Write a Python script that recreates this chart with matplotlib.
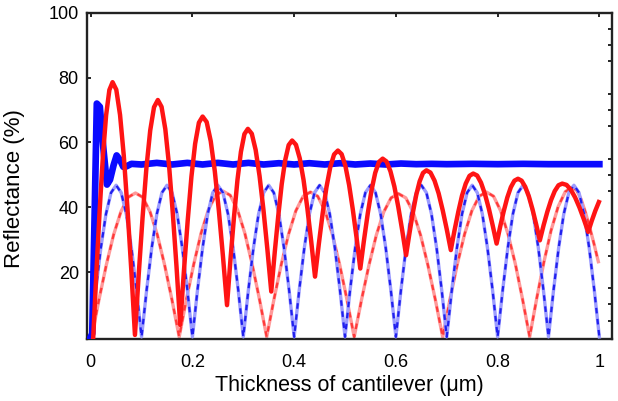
import matplotlib.pyplot as plt
from matplotlib.ticker import MultipleLocator

# thick red curve (solid)
red_thick_x = [0.005, 0.0113, 0.0177, 0.024, 0.0303, 0.0367, 0.043,
               0.0503, 0.0577, 0.065, 0.0723, 0.0797, 0.087,
               0.0945, 0.102, 0.1095, 0.117, 0.1245, 0.132,
               0.1393, 0.1467, 0.154, 0.1613, 0.1687, 0.176,
               0.1833, 0.1907, 0.198, 0.2053, 0.2127, 0.220,
               0.228, 0.236, 0.244, 0.252, 0.260, 0.268,
               0.2748, 0.2817, 0.2885, 0.2953, 0.3022, 0.309,
               0.3167, 0.3243, 0.332, 0.3397, 0.3473, 0.355,
               0.3618, 0.3687, 0.3755, 0.3823, 0.3892, 0.396,
               0.4035, 0.411, 0.4185, 0.426, 0.4335, 0.441,
               0.4485, 0.456, 0.4635, 0.471, 0.4785, 0.486,
               0.4933, 0.5007, 0.508, 0.5153, 0.5227, 0.530,
               0.5373, 0.5447, 0.552, 0.5593, 0.5667, 0.574,
               0.5817, 0.5893, 0.597, 0.6047, 0.6123, 0.620,
               0.6267, 0.6333, 0.640, 0.6467, 0.6533, 0.660,
               0.668, 0.676, 0.684, 0.692, 0.700, 0.708,
               0.7153, 0.7227, 0.730, 0.7373, 0.7447, 0.752,
               0.7597, 0.7673, 0.775, 0.7827, 0.7903, 0.798,
               0.805, 0.812, 0.819, 0.826, 0.833, 0.840,
               0.8472, 0.8543, 0.8615, 0.8687, 0.8758, 0.883,
               0.8903, 0.8977, 0.905, 0.9123, 0.9197, 0.927,
               0.9355, 0.944, 0.9525, 0.961, 0.9695, 0.978,
               0.985, 0.992, 0.999]
red_thick_y = [0.0, 20.4, 39.3, 55.8, 68.4, 76.2, 78.6,
               76.3, 68.5, 56.0, 39.6, 20.9, 0.6,
               19.5, 36.9, 52.1, 63.7, 70.9, 73.1,
               71.0, 64.1, 53.0, 38.4, 21.7, 3.7,
               20.4, 35.9, 49.4, 59.6, 66.1, 68.0,
               66.3, 60.4, 51.1, 38.9, 24.9, 9.8,
               23.9, 37.0, 48.4, 57.1, 62.6, 64.2,
               62.7, 57.7, 49.6, 39.1, 27.1, 14.0,
               26.1, 37.3, 47.1, 54.5, 59.2, 60.6,
               59.3, 55.1, 48.4, 39.6, 29.5, 18.6,
               28.7, 38.1, 46.2, 52.4, 56.3, 57.5,
               56.4, 52.8, 46.9, 39.3, 30.6, 21.1,
               29.9, 38.1, 45.2, 50.6, 54.0, 55.0,
               54.1, 51.1, 46.4, 40.1, 33.0, 25.2,
               32.0, 38.3, 43.8, 48.0, 50.6, 51.4,
               50.7, 48.2, 44.3, 39.1, 33.2, 26.8,
               32.9, 38.6, 43.6, 47.3, 49.7, 50.4,
               49.8, 47.6, 44.1, 39.6, 34.4, 28.8,
               34.0, 38.8, 43.0, 46.2, 48.2, 48.8,
               48.2, 46.3, 43.3, 39.3, 34.7, 29.8,
               34.4, 38.6, 42.2, 45.0, 46.8, 47.3,
               46.9, 45.4, 43.0, 39.9, 36.3, 32.4,
               35.8, 38.9, 41.6]

# thin red curve (dashed)
red_thin_x = [0.002, 0.0163, 0.0307, 0.045, 0.0593, 0.0737, 0.088,
              0.1023, 0.1167, 0.131, 0.1453, 0.1597, 0.174,
              0.1883, 0.2027, 0.217, 0.2313, 0.2457, 0.260,
              0.2743, 0.2887, 0.303, 0.3173, 0.3317, 0.346,
              0.3603, 0.3747, 0.389, 0.4033, 0.4177, 0.432,
              0.4463, 0.4607, 0.475, 0.4893, 0.5037, 0.518,
              0.5325, 0.547, 0.5615, 0.576, 0.5905, 0.605,
              0.6195, 0.634, 0.6485, 0.663, 0.6775, 0.692,
              0.7063, 0.7207, 0.735, 0.7493, 0.7637, 0.778,
              0.792, 0.806, 0.8205, 0.835, 0.849, 0.863,
              0.877, 0.891, 0.905, 0.919, 0.933, 0.947,
              0.9555, 0.964, 0.9725, 0.981, 0.9895, 0.998]
red_thin_y = [0.0, 11.5, 22.2, 31.5, 38.6, 43.1, 44.4,
              43.1, 38.6, 31.5, 22.2, 11.5, 0.0,
              11.7, 22.5, 32.0, 39.2, 43.7, 45.0,
              43.7, 39.2, 32.0, 22.5, 11.7, 0.0,
              11.6, 22.4, 31.7, 38.9, 43.4, 44.7,
              43.4, 38.9, 31.7, 22.4, 11.6, 0.0,
              11.5, 22.1, 31.4, 38.5, 42.9, 44.2,
              42.9, 38.5, 31.4, 22.1, 11.5, 0.0,
              11.6, 22.4, 31.7, 38.9, 43.4, 44.7,
              43.4, 38.9, 31.7, 22.4, 11.6, 0.0,
              12.0, 23.1, 32.8, 40.2, 44.8, 46.2,
              45.2, 42.5, 38.5, 33.8, 28.7, 23.2]

# thin blue curve (dashed), sampled every 0.01
blue_thin_x = [i / 100 for i in range(101)]
blue_thin_y = [0.0, 14.5, 27.5, 37.9, 44.5, 46.8, 44.5, 37.9, 27.5, 14.5] * 10 + [0.0]

# thick blue curve (solid)
blue_thick_x = [0.0, 0.003, 0.008, 0.012, 0.018, 0.025, 0.032, 0.038, 0.045,
                0.051, 0.058, 0.064, 0.070, 0.08, 0.10, 0.13, 0.16, 0.19,
                0.22, 0.25, 0.28, 0.31, 0.34, 0.37, 0.40, 0.43, 0.46,
                0.49, 0.52, 0.55, 0.58, 0.61, 0.64, 0.67, 0.70, 0.75,
                0.80, 0.85, 0.90, 0.95, 1.0]
blue_thick_y = [0.0, 1.0, 40.0, 72.0, 71.0, 58.0, 47.0, 48.5, 53.0,
                56.0, 54.5, 52.5, 52.6, 53.4, 53.2, 53.7, 53.2, 53.7,
                53.2, 53.7, 53.2, 53.7, 53.2, 53.6, 53.2, 53.6, 53.2,
                53.6, 53.2, 53.5, 53.2, 53.5, 53.3, 53.4, 53.3, 53.4,
                53.3, 53.4, 53.3, 53.3, 53.3]

plt.rcParams["font.family"] = ["Liberation Sans", "DejaVu Sans"]
plt.rcParams["font.size"] = 13

fig = plt.figure(figsize=(6.18, 4.01), dpi=100)
ax = fig.add_axes([0.141, 0.155, 0.849, 0.813])

ax.plot(red_thin_x, red_thin_y, color="#ff9a9a", lw=2.4, zorder=2)
ax.plot(red_thin_x, red_thin_y, color="#ff3a3a", lw=1.6, ls=(0, (2.5, 2.5)), zorder=2)
ax.plot(blue_thin_x, blue_thin_y, color="#9c9cff", lw=2.4, zorder=3)
ax.plot(blue_thin_x, blue_thin_y, color="#2020ee", lw=1.6, ls=(0, (2.5, 2.5)), zorder=3)
ax.plot(blue_thick_x, blue_thick_y, color="#0a0aff", lw=4.8, zorder=4,
        solid_joinstyle="round")
ax.plot(red_thick_x, red_thick_y, color="#ff1414", lw=3.2, zorder=5,
        solid_joinstyle="round")

ax.set_xlim(-0.007, 1.0245)
ax.set_ylim(-0.6, 100)
ax.set_xticks([0, 0.2, 0.4, 0.6, 0.8, 1.0])
ax.set_xticklabels(["0", "0.2", "0.4", "0.6", "0.8", "1"])
ax.set_yticks([0, 20, 40, 60, 80, 100])
ax.set_yticklabels(["", "20", "40", "60", "80", "100"])
ax.yaxis.set_minor_locator(MultipleLocator(5))
ax.tick_params(which="major", direction="in", length=3, width=1.2,
               top=True, right=False)
ax.tick_params(axis="x", which="major", pad=11)
ax.tick_params(axis="y", which="major", pad=6)
ax.tick_params(which="minor", direction="in", length=3, width=1.2,
               left=False, right=True)
ax.tick_params(axis="x", which="minor", bottom=False, top=False)

for sp in ax.spines.values():
    sp.set_linewidth(1.7)
    sp.set_color("#222222")

ax.set_xlabel("Thickness of cantilever (\u03bcm)", fontsize=15.5, labelpad=3)
ax.set_ylabel("Reflectance (%)", fontsize=16)
ax.yaxis.set_label_coords(-0.118, 0.46)

fig.savefig("out.png", dpi=100)
